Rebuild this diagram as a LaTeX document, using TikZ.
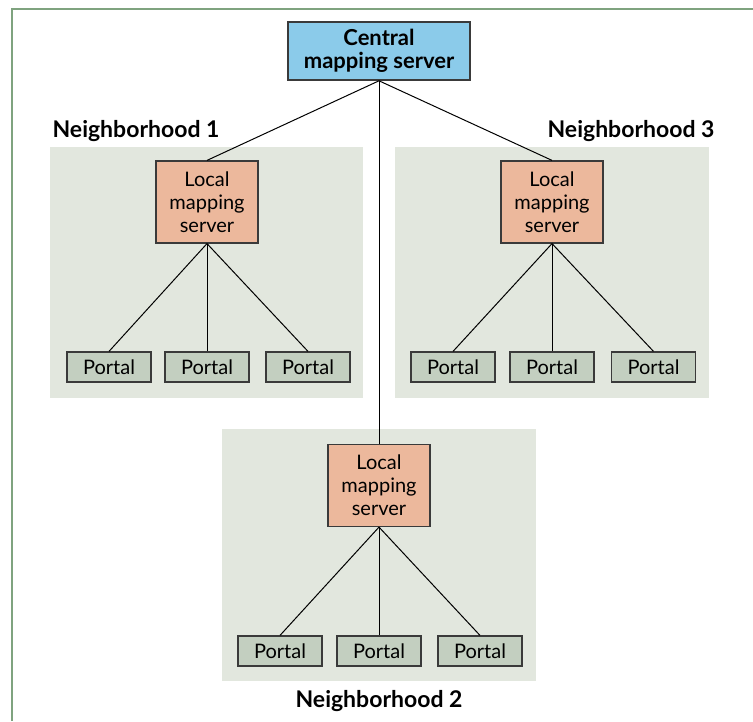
\documentclass[tikz,border=0pt]{standalone}
\usepackage{fontspec}
\setmainfont{Lato}
\usetikzlibrary{positioning}

\definecolor{framegreen}{HTML}{7FA37F}
\definecolor{hoodbg}{HTML}{E2E7DE}
\definecolor{centralblue}{HTML}{8BCBEA}
\definecolor{localsalmon}{HTML}{ECB89C}
\definecolor{portalgreen}{HTML}{C3CFC0}
\definecolor{edgegray}{HTML}{3A3A3A}

\tikzset{
	centralbox/.style={draw=edgegray, line width=0.8pt, fill=centralblue, minimum width=91pt, minimum height=29pt, align=center, font=\fontsize{11}{11.5}\selectfont\bfseries, inner sep=0pt},
	localbox/.style={draw=edgegray, line width=0.6pt, fill=localsalmon, minimum width=51pt, minimum height=41pt, align=center, font=\fontsize{10}{11.5}\selectfont, inner sep=0pt},
	portalbox/.style={draw=edgegray, line width=0.6pt, fill=portalgreen, minimum width=42pt, minimum height=15pt, font=\fontsize{10}{11.5}\selectfont, inner sep=0pt},
	hoodlabel/.style={font=\fontsize{11.5}{12}\selectfont\bfseries, inner sep=0pt},
	link/.style={line width=0.5pt, black}
}

\begin{document}
\begin{tikzpicture}[x=0.5pt, y=-0.5pt]
			%%%%% FRAME %%%%%
			\useasboundingbox (0, 0) rectangle (753, 721);
			\draw[framegreen, line width=1pt] (12, 721) -- (12, 9) -- (753, 9);
			
			%%%%% NEIGHBORHOOD BACKGROUNDS %%%%%
			\fill[hoodbg] (50, 147) rectangle (363, 398);
			\fill[hoodbg] (395, 147) rectangle (709, 398);
			\fill[hoodbg] (222, 429) rectangle (536, 681);
			
			\node[hoodlabel] (hood1) at (136, 131) {Neighborhood 1};
			\node[hoodlabel] (hood3) at (631, 131) {Neighborhood 3};
			\node[hoodlabel] (hood2) at (379, 701) {Neighborhood 2};
			
			%%%%% SERVERS %%%%%
			\node[centralbox] (central) at (379, 51) {Central\\mapping server};
			
			\node[localbox] (local1) at (207, 202) {Local\\mapping\\server};
			\node[localbox] (local3) at (552, 202) {Local\\mapping\\server};
			\node[localbox] (local2) at (379, 485.5) {Local\\mapping\\server};
			
			%%%%% PORTALS %%%%%
			\node[portalbox] (portal11) at (109, 367) {Portal};
			\node[portalbox] (portal12) at (207, 367) {Portal};
			\node[portalbox] (portal13) at (308, 367) {Portal};
			
			\node[portalbox] (portal31) at (453, 367) {Portal};
			\node[portalbox] (portal32) at (552, 367) {Portal};
			\node[portalbox] (portal33) at (653.5, 367) {Portal};
			
			\node[portalbox] (portal21) at (280, 651) {Portal};
			\node[portalbox] (portal22) at (379, 651) {Portal};
			\node[portalbox] (portal23) at (480, 651) {Portal};
			
			%%%%% LINKS %%%%%
			\draw[link] (central.south) -- (local1.north);
			\draw[link] (central.south) -- (local3.north);
			\draw[link] (central.south) -- (local2.north);
			
			\draw[link] (local1.south) -- (portal11.north);
			\draw[link] (local1.south) -- (portal12.north);
			\draw[link] (local1.south) -- (portal13.north);
			
			\draw[link] (local3.south) -- (portal31.north);
			\draw[link] (local3.south) -- (portal32.north);
			\draw[link] (local3.south) -- (portal33.north);
			
			\draw[link] (local2.south) -- (portal21.north);
			\draw[link] (local2.south) -- (portal22.north);
			\draw[link] (local2.south) -- (portal23.north);
			
			%%%%% END %%%%%
\end{tikzpicture}
\end{document}
